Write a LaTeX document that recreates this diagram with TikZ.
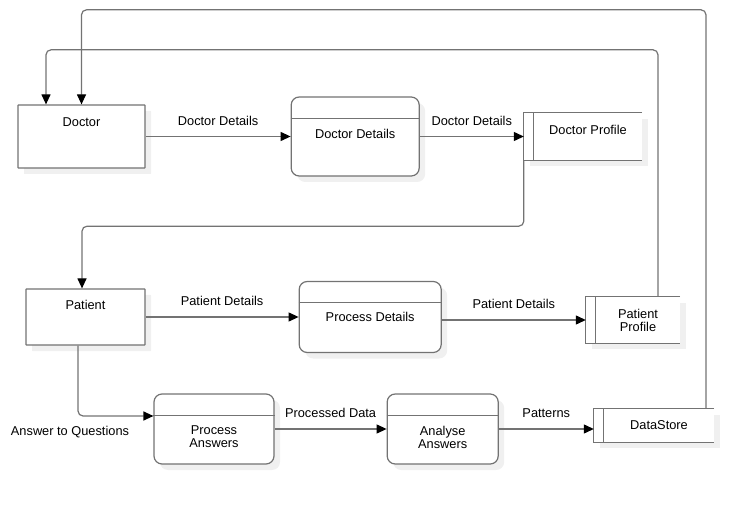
\documentclass[tikz,border=0pt]{standalone}
\usepackage{fontspec}
\setmainfont{Liberation Sans}
\usetikzlibrary{arrows.meta,positioning,shadows}

\begin{document}
\begin{tikzpicture}[x=1pt,y=-1pt,>={Triangle[length=10pt,width=9pt,color=black]},
  font=\fontsize{12.8}{13}\selectfont,
  line/.style={draw=black!55,line width=1.2pt},
  shade/.style={drop shadow={shadow xshift=6pt,shadow yshift=-6pt,fill=black!6,opacity=1}},
  entity/.style={line,shade,fill=white,rounded corners=0.4pt,inner sep=0pt},
  process/.style={line,shade,fill=white,rounded corners=8pt,inner sep=0pt},
  store/.style={shade,fill=white,inner sep=0pt},
  flow/.style={line,->,rounded corners=5pt},
  lbl/.style={midway,yshift=16pt},
  txt/.style={align=center,inner sep=0pt}]
  \useasboundingbox (0,0) rectangle (753,505);
  % top row
  \node[entity,minimum width=127pt,minimum height=63pt] (doctor) at (81.5,136.5) {};
  \node[process,minimum width=128pt,minimum height=79pt,right=145pt of doctor] (dproc) {};
  \node[store,minimum width=118pt,minimum height=47pt,right=104pt of dproc] (dprof) {};
  % middle row
  \node[entity,minimum width=119pt,minimum height=56pt] (patient) at (85.5,317) {};
  \node[process,minimum width=142pt,minimum height=71pt,right=153pt of patient] (pproc) {};
  \node[store,minimum width=94pt,minimum height=46pt] (pprof) at (633,320) {};
  % bottom row
  \node[process,minimum width=120pt,minimum height=70pt] (pans) at (214,429) {};
  \node[process,minimum width=111pt,minimum height=70pt,right=112pt of pans] (aans) {};
  \node[store,minimum width=120pt,minimum height=33pt] (dstore) at (654,425.5) {};
  % store outlines and process headers
  \foreach \s in {dprof,pprof,dstore}
    \draw[line] (\s.north east) -- (\s.north west) -- (\s.south west) -- (\s.south east)
      ([xshift=10pt]\s.north west) -- ([xshift=10pt]\s.south west);
  \foreach \p in {dproc,pproc,pans,aans}
    \draw[line] ([yshift=-22pt]\p.north west) -- ([yshift=-22pt]\p.north east);
  % texts
  \node[txt] (doctorT) at ([yshift=14.5pt]doctor) {Doctor};
  \node[txt] (dprocT) at ([yshift=2.5pt]dproc) {Doctor Details};
  \node[txt] (dprofT) at ([xshift=5pt,yshift=7pt]dprof) {Doctor Profile};
  \node[txt] (patientT) at ([yshift=12pt]patient) {Patient};
  \node[txt] (pprocT) at (pproc) {Process Details};
  \node[txt] (pprofT) at ([xshift=5pt]pprof) {Patient\\Profile};
  \node[txt] (pansT) at ([yshift=-8pt]pans) {Process\\Answers};
  \node[txt] (aansT) at ([yshift=-8pt]aans) {Analyse\\Answers};
  \node[txt] (dstoreT) at ([xshift=5pt]dstore) {DataStore};
  % flows
  \draw[flow] (doctor.east) -- (doctor.east -| dproc.west) node[lbl]{Doctor Details};
  \draw[flow] (dproc.east) -- (dproc.east -| dprof.west) node[lbl]{Doctor Details};
  \draw[flow] (dprof.south west) -- ++(0,66) -| ([xshift=-3.5pt]patient.north);
  \draw[flow] (patient.east) -- (patient.east -| pproc.west) node[lbl]{Patient Details};
  \draw[flow] (pprof.west -| pproc.east) -- (pprof.west) node[lbl]{Patient Details};
  \draw[flow] ([xshift=25pt]pprof.north) -- ++(0,-247) -| ([xshift=-35.5pt]doctor.north);
  \draw[flow] ([xshift=-7.5pt]patient.south) |- ([yshift=13pt]pans.west)
    node[pos=0.5,xshift=-8pt,yshift=-16pt]{Answer to Questions};
  \draw[flow] (pans.east) -- (pans.east -| aans.west) node[lbl]{Processed Data};
  \draw[flow] (aans.east) -- (aans.east -| dstore.west) node[lbl]{Patterns};
  \draw[flow] ([xshift=52pt]dstore.north) -- ++(0,-399) -| (doctor.north);
\end{tikzpicture}
\end{document}
